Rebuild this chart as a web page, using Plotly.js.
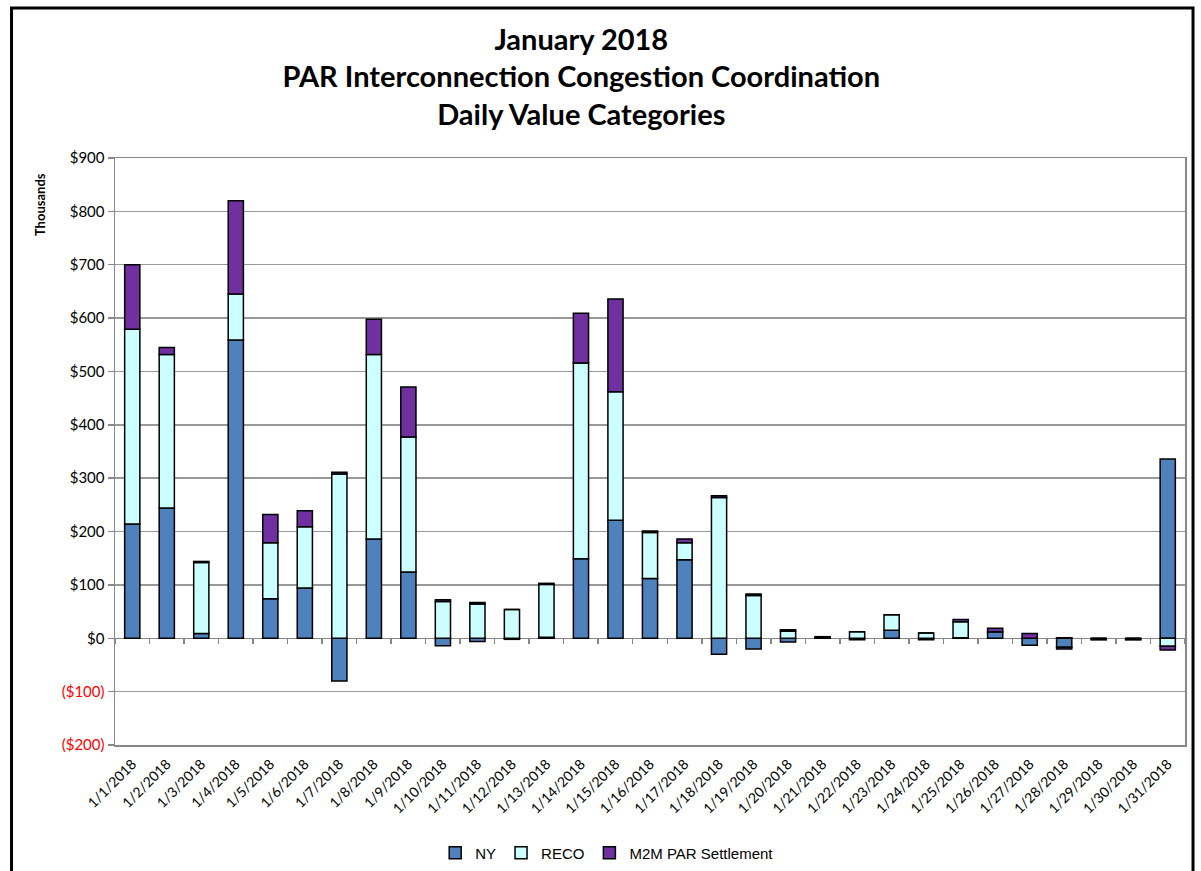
<!DOCTYPE html>
<html>
<head>
<meta charset="utf-8">
<script src="https://cdn.plot.ly/plotly-3.0.1.min.js"></script>
<style>html,body{margin:0;padding:0;background:#fff;}#chart{width:1201px;height:871px;}</style>
</head>
<body>
<div id="chart"></div>
<script>
const dates = ["1/1/2018","1/2/2018","1/3/2018","1/4/2018","1/5/2018","1/6/2018","1/7/2018","1/8/2018","1/9/2018","1/10/2018","1/11/2018","1/12/2018","1/13/2018","1/14/2018","1/15/2018","1/16/2018","1/17/2018","1/18/2018","1/19/2018","1/20/2018","1/21/2018","1/22/2018","1/23/2018","1/24/2018","1/25/2018","1/26/2018","1/27/2018","1/28/2018","1/29/2018","1/30/2018","1/31/2018"];
const ny   = [214,244,9,559,74,94,-80,186,124,-14,-6,-2,2,149,221,112,147,-30,-20,-7,0,-3,15,-3,1,12,-13,-17,-1,-2,336];
const reco = [365,288,133,86,105,115,308,346,253,69,64,54,99,367,241,86,32,264,80,13,1,12,29,10,30,0,0,1,0,0,-15];
const m2m  = [121,13,2,175,53,30,3,66,94,3,3,0,2,93,174,3,7,3,3,3,2,0,0,0,4,7,9,-3,-2,-1,-7];
const yTickVals = [-200,-100,0,100,200,300,400,500,600,700,800,900];
const yTickText = ['<span style="color:#ff0000">($200)</span>','<span style="color:#ff0000">($100)</span>','$0','$100','$200','$300','$400','$500','$600','$700','$800','$900'];

const lineStyle = {color:'#000000', width:1.5};
const traces = [
  {type:'bar', name:'NY', x:dates, y:ny, marker:{color:'#4F81BD', line:lineStyle}},
  {type:'bar', name:'RECO', x:dates, y:reco, marker:{color:'#CCFFFF', line:lineStyle}},
  {type:'bar', name:'M2M PAR Settlement', x:dates, y:m2m, marker:{color:'#7030A0', line:lineStyle}},
  {type:'scatter', mode:'markers', x:dates, y:ny.map(()=>0), xaxis:'x2', yaxis:'y', showlegend:false, hoverinfo:'skip', marker:{opacity:0, size:1}}
];

const catRange = [-0.5, dates.length - 0.5];
const layout = {
  width:1201, height:871,
  margin:{l:115, r:16, t:158, b:126, autoexpand:false},
  paper_bgcolor:'#ffffff', plot_bgcolor:'#ffffff',
  barmode:'relative', bargap:0.56,
  font:{family:'Lato, "Open Sans", sans-serif', color:'#000'},
  title:{
    text:'<b>January 2018<br>PAR Interconnection Congestion Coordination<br>Daily Value Categories</b>',
    x:0.484, xanchor:'center', xref:'container',
    y:0.943, yanchor:'top', yref:'container',
    font:{family:'Lato, "Open Sans", sans-serif', size:29, color:'#000'}
  },
  xaxis:{
    type:'category', tickangle:-45, automargin:false, range:catRange, autorange:false,
    tickfont:{family:'Lato, "Open Sans", sans-serif', size:14, color:'#000'},
    ticklabelstandoff:4,
    showgrid:false, showline:true, linecolor:'#888888', linewidth:1.5, mirror:true,
    ticks:'', zeroline:false
  },
  xaxis2:{
    type:'category', overlaying:'x', anchor:'free', position:200/1100, automargin:false,
    range:catRange, autorange:false,
    showticklabels:false, ticks:'outside', ticklen:5, tickcolor:'#888888', tickwidth:1.5,
    tickson:'boundaries', showgrid:false, showline:false, zeroline:false
  },
  yaxis:{
    range:[-200,900], tickvals:yTickVals, ticktext:yTickText, automargin:false,
    tickfont:{family:'Lato, "Open Sans", sans-serif', size:15, color:'#000'},
    showgrid:true, gridcolor:'#999999', gridwidth:1.5,
    showline:true, linecolor:'#888888', linewidth:1.5, mirror:true,
    ticks:'outside', ticklen:6, tickcolor:'#888888', tickwidth:1.5,
    zeroline:true, zerolinecolor:'#888888', zerolinewidth:1.5
  },
  annotations:[
    {text:'<b>Thousands</b>', xref:'paper', yref:'paper', x:-0.07, y:0.92, textangle:-90, showarrow:false, xanchor:'center', yanchor:'middle', font:{family:'Lato, "Open Sans", sans-serif', size:13, color:'#000'}}
  ],
  legend:{
    orientation:'h', x:0.46, xanchor:'center', y:-0.184, yanchor:'middle',
    font:{family:'"Liberation Sans", Arial, sans-serif', size:15, color:'#000'},
    itemwidth:30, tracegroupgap:0
  },
  shapes:[
    {type:'rect', xref:'paper', yref:'paper', x0:-0.0967, x1:1.0075, y0:-0.5, y1:1.2555, line:{color:'#000', width:3}, fillcolor:'rgba(0,0,0,0)', layer:'above'}
  ]
};

Plotly.newPlot('chart', traces, layout, {displayModeBar:false, staticPlot:true});
</script>
</body>
</html>
